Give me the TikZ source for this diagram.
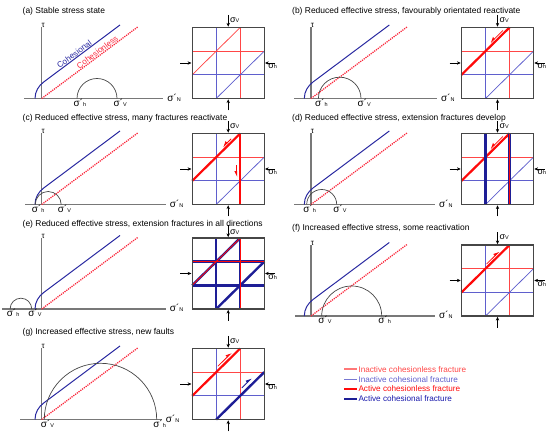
\documentclass[tikz,border=0pt]{standalone}
\usepackage{fontspec}
\setmainfont{Liberation Sans}
\usetikzlibrary{arrows.meta,calc}
\definecolor{axgray}{RGB}{120,120,120}
\definecolor{boxgray}{RGB}{70,70,70}
\definecolor{circgray}{RGB}{70,70,70}
\definecolor{cohblue}{RGB}{40,40,160}
\definecolor{lessred}{RGB}{250,40,60}
\definecolor{inred}{RGB}{255,70,70}
\definecolor{inblue}{RGB}{95,95,205}
\definecolor{actred}{RGB}{255,10,10}
\definecolor{actblue}{RGB}{30,30,150}
\definecolor{legred}{RGB}{255,120,120}
\definecolor{legblue}{RGB}{120,120,210}
\tikzset{
  x=1bp, y=1bp,
  axisln/.style={draw=axgray, line width=1.5pt},
  cohln/.style={draw=cohblue, line width=1pt},
  lessln/.style={draw=lessred, line width=1.3pt, dash pattern=on 1.2pt off 1pt},
  mohrc/.style={draw=circgray, line width=0.7pt},
  ired/.style={draw=inred, line width=0.75pt},
  iblue/.style={draw=inblue, line width=0.75pt},
  ared/.style={draw=actred, line width=2.2pt},
  ablue/.style={draw=actblue, line width=2.4pt},
  stressar/.style={draw=black, line width=0.7pt, -{Stealth[length=3.8pt,width=3.4pt]}},
  slipar/.style={line width=0.8pt, -{Triangle[length=5pt,width=4.6pt,#1]}},
  ttl/.style={anchor=base west, inner sep=0, font=\fontsize{8.5}{10}\selectfont},
  lbl/.style={inner sep=0, font=\fontsize{10}{12}\selectfont},
  blbl/.style={inner sep=0, font=\fontsize{9}{10}\selectfont},
  legtxt/.style={anchor=west, inner sep=0, font=\fontsize{8.2}{10}\selectfont},
}
\newcommand{\msig}[1]{σ´{\fontsize{5.5}{6}\selectfont #1}}
\newcommand{\bsig}[1]{σ{\fontsize{5.5}{6}\selectfont #1}}
% Mohr diagram axes and failure envelopes
\newcommand{\MohrAxes}[3]{%
  \coordinate (#1axL) at (#2,0);
  \coordinate (#1axR) at (#3,0);
  \coordinate (#1tb) at (0,0);
  \coordinate (#1tt) at (0,71);
  \draw[axisln] (#1axL) -- (#1axR);
  \draw[axisln] (#1tb) -- (#1tt);
  \node[inner sep=0, font=\fontsize{8}{9}\selectfont, anchor=base] (#1tau) at (1.5,70.5) {τ};
  \node[lbl, anchor=base west] (#1sn) at ($(#1axR)+(4,-2.6)$) {\msig{N}};
  \draw[cohln] (-6.7,0) .. controls (-6.7,7) and (-3,12.76) .. (2,16.5) -- (78.3,73.5);
  \draw[lessln] (0,0) -- (96,71.5);
}
% Mohr circle with end labels
\newcommand{\Mohr}[5]{%
  \coordinate (#1cl) at (#2-#3,0);
  \coordinate (#1cr) at (#2+#3,0);
  \draw[mohrc] (#1cl) arc[start angle=180, end angle=0, radius=#3];
  \node[lbl, anchor=base west] (#1ll) at ($(#1cl)+(-3.5,-7.8)$) {\msig{#4}};
  \node[lbl, anchor=base west] (#1rl) at ($(#1cr)+(-3.5,-7.8)$) {\msig{#5}};
}
% inactive fracture grid
\newcommand{\StdLines}{%
  \draw[iblue] (24,0) -- (24,71);
  \draw[ired] (48,0) -- (48,71);
  \draw[ired] (0,47.33) -- (72,47.33);
  \draw[iblue] (0,23.67) -- (72,23.67);
  \draw[ired] (0,23.67) -- (48,71);
  \draw[iblue] (24,0) -- (72,47.33);
}
% box frame and stress arrows; #2 = height of the sigma_V label above the box
\newcommand{\BoxFrame}[2][7.5]{%
  \node[draw=boxgray, line width=1.1pt, minimum width=72bp, minimum height=71bp, inner sep=0, outer sep=0, anchor=south west] (#2box) at (0,0) {};
  \draw[stressar] ($(#2box.north)+(0,12.5)$) -- ($(#2box.north)+(0,0.8)$);
  \node[blbl, anchor=west] (#2sv) at ($(#2box.north)+(1.8,#1)$) {\bsig{V}};
  \draw[stressar] ($(#2box.south)+(0,-12)$) -- ($(#2box.south)+(0,-0.8)$);
  \draw[stressar] ($(#2box.west)+(-12,0)$) -- ($(#2box.west)+(-0.8,0)$);
  \draw[stressar] ($(#2box.east)+(11,0)$) -- ($(#2box.east)+(0.8,0)$);
  \node[blbl, anchor=north west] (#2sh) at ($(#2box.east)+(4,-1)$) {\bsig{h}};
}
\begin{document}
\begin{tikzpicture}
\useasboundingbox (0,0) rectangle (550,435);

% titles
\node[ttl] (ta) at (22.5,421.5) {(a) Stable stress state};
\node[ttl] (tb) at (292,421.5) {(b) Reduced effective stress, favourably orientated reactivate};
\node[ttl] (tc) at (22.5,314.5) {(c) Reduced effective stress, many fractures reactivate};
\node[ttl] (td) at (292,314.5) {(d) Reduced effective stress, extension fractures develop};
\node[ttl] (te) at (22.5,208) {(e) Reduced effective stress, extension fractures in all directions};
\node[ttl] (tf) at (292,204) {(f) Increased effective stress, some reactivation};
\node[ttl] (tg) at (22.5,100) {(g) Increased effective stress, new faults};

% (a)
\begin{scope}[shift={(41.7,336.5)}]
  \MohrAxes{a}{-17.5}{121.5}
  \node[inner sep=0.8pt, anchor=south, rotate=36.7, text=cohblue, font=\fontsize{8.2}{9}\selectfont] (cohtxt) at (35,41.1) {Cohesional};
  \node[inner sep=0.8pt, anchor=south, rotate=36.7, text=lessred, font=\fontsize{8.2}{9}\selectfont] (lesstxt) at (58,43.2) {Cohesionless};
  \Mohr{a}{55.3}{20}{h}{V}
  \begin{scope}[shift={(150.5,0)}]
    \StdLines
    \BoxFrame{a}
  \end{scope}
\end{scope}

% (b)
\begin{scope}[shift={(311,336.5)}]
  \MohrAxes{b}{-17}{126}
  \Mohr{b}{28.7}{21.3}{h}{V}
  \begin{scope}[shift={(150.5,0)}]
    \StdLines
    \draw[ared] (0,23.67) -- (48,71);
    \draw[slipar=right, actred] (41.4,68.0) -- (29.0,55.7);
    \BoxFrame{b}
  \end{scope}
\end{scope}

% (c)
\begin{scope}[shift={(41.7,230.5)}]
  \MohrAxes{c}{-16.7}{124}
  \Mohr{c}{6.5}{13}{h}{V}
  \begin{scope}[shift={(150.5,0)}]
    \StdLines
    \draw[ared] (0,23.67) -- (48,71);
    \draw[ared] (48,0) -- (48,71);
    \draw[slipar=right, actred] (39.0,65.7) -- (30.9,57.6);
    \draw[slipar=right, actred] (44.6,39) -- (44.6,27.5);
    \BoxFrame{c}
  \end{scope}
\end{scope}

% (d)
\begin{scope}[shift={(311,230.5)}]
  \MohrAxes{d}{-17}{124}
  \Mohr{d}{10.7}{15}{h}{V}
  \begin{scope}[shift={(150.5,0)}]
    \StdLines
    \draw[ared] (0,23.67) -- (48,71);
    \draw[slipar=right, actred] (41.4,68.0) -- (29.0,55.7);
    \draw[ablue] (24,0) -- (24,71);
    \draw[ablue] (48,0) -- (48,71);
    \draw[draw=actred, line width=0.9pt] (48,0) -- (48,71);
    \BoxFrame{d}
  \end{scope}
\end{scope}

% (e)
\begin{scope}[shift={(41.7,126)}]
  \MohrAxes{e}{-39.5}{124}
  \Mohr{e}{-20.8}{10.8}{h}{V}
  \begin{scope}[shift={(150.5,0)}]
    \draw[ablue] (24,0) -- (24,71);
    \draw[ablue] (48,0) -- (48,71);
    \draw[ablue] (0,47.33) -- (72,47.33);
    \draw[ablue] (0,23.67) -- (72,23.67);
    \draw[ablue] (0,23.67) -- (48,71);
    \draw[ablue] (24,0) -- (72,47.33);
    \draw[draw=actred, line width=0.9pt] (48,0) -- (48,71);
    \draw[draw=actred, line width=0.9pt] (0,47.33) -- (72,47.33);
    \draw[draw=actred, line width=0.9pt] (0,23.67) -- (48,71);
    \BoxFrame[5.5]{e}
  \end{scope}
\end{scope}

% (f)
\begin{scope}[shift={(311,119)}]
  \MohrAxes{f}{-16}{124}
  \Mohr{f}{40.7}{30}{V}{h}
  \begin{scope}[shift={(150.5,0)}]
    \StdLines
    \draw[ared] (0,23.67) -- (48,71);
    \draw[slipar=left, actred] (25.1,52.0) -- (37.6,64.3);
    \BoxFrame{f}
  \end{scope}
\end{scope}

% (g)
\begin{scope}[shift={(41.7,15.5)}]
  \MohrAxes{g}{-21.7}{120}
  \Mohr{g}{58.8}{56.2}{V}{h}
  \begin{scope}[shift={(150.5,0)}]
    \StdLines
    \draw[ared] (0,23.67) -- (48,71);
    \draw[ablue] (24,0) -- (72,47.33);
    \draw[slipar=left, actred] (25.7,53.3) -- (39.2,66.5);
    \draw[slipar=left, actblue] (49.6,31.6) -- (59.2,41.1);
    \BoxFrame{g}
  \end{scope}
\end{scope}

% legend
\coordinate (l1a) at (344.3,65.7); \coordinate (l1b) at (356.7,65.7);
\coordinate (l2a) at (344.3,55.7); \coordinate (l2b) at (356.7,55.7);
\coordinate (l3a) at (344.3,46);   \coordinate (l3b) at (356.7,46);
\coordinate (l4a) at (344.3,36);   \coordinate (l4b) at (356.7,36);
\draw[draw=legred, line width=1.6pt] (l1a) -- (l1b);
\draw[draw=legblue, line width=1.4pt] (l2a) -- (l2b);
\draw[draw=actred, line width=2.6pt] (l3a) -- (l3b);
\draw[draw=actblue, line width=2.6pt] (l4a) -- (l4b);
\node[legtxt, text=inred] (lt1) at (358.3,65.7) {Inactive cohesionless fracture};
\node[legtxt, text=inblue] (lt2) at (358.3,55.7) {Inactive cohesional fracture};
\node[legtxt, text=actred] (lt3) at (358.3,46) {Active cohesionless fracture};
\node[legtxt, text=actblue!80!blue] (lt4) at (358.3,36) {Active cohesional fracture};
\end{tikzpicture}
\end{document}
